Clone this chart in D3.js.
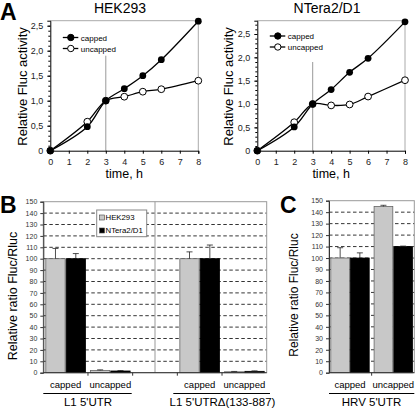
<!DOCTYPE html>
<html><head><meta charset="utf-8">
<script src="https://cdn.jsdelivr.net/npm/d3@7"></script>
<style>body{margin:0;background:#fff}svg{display:block;font-family:"Liberation Sans",Arial,sans-serif}</style>
</head><body>
<svg id="c" width="416" height="409"></svg>
<script>
// ---- Panel A data ----
const timePoints = [0, 2, 3, 4, 5, 6, 8];
const hekCapped   = [0, 0.48, 1.0, 1.24, 1.50, 1.82, 2.59];
const hekUncapped = [0, 0.58, 1.0, 1.08, 1.18, 1.23, 1.40];
const ntCapped    = [0, 0.51, 1.0, 1.31, 1.68, 1.98, 2.76];
const ntUncapped  = [0, 0.61, 1.0, 0.97, 0.99, 1.16, 1.51];
const xTicksA = [0, 1, 2, 3, 4, 5, 6, 7, 8];
const yTicksA = [0, 0.5, 1.0, 1.5, 2.0, 2.5];
// ---- Panel B data ----
const bCategories = ["capped", "uncapped", "", "capped", "uncapped"];
const bGroups = ["L1 5'UTR", "L1 5'UTR\u0394(133-887)"];
const bHek    = [100, 2.0, null, 100, 0.8];
const bHekErr = [9, 0.5, null, 6, 0.3];
const bNt     = [100, 1.5, null, 100, 1.2];
const bNtErr  = [4.5, 0.4, null, 12, 0.4];
// ---- Panel C data ----
const cCategories = ["capped", "uncapped"];
const cGroup = "HRV 5'UTR";
const cHek    = [100, 145];
const cHekErr = [9, 1];
const cNt     = [100, 110];
const cNtErr  = [4.5, 0.4];
const seriesNames = ["HEK293", "NTera2/D1"];
const yTicksBar = d3.range(0, 151, 10);

const svg = d3.select("#c");
const fmtA = v => v === 0 ? "0" : d3.format(".1f")(v).replace(".", ",");

function linePanel(opts) {
  const g = svg.append("g");
  const x = d3.scaleLinear().domain([0, 8]).range([opts.x0, opts.x1]);
  const y = d3.scaleLinear().domain([0, opts.ymax]).range([150.7, 20.7]);
  g.append("path").attr("d", `M${x(0)},${y(opts.ymax)}H${x(8)}V${y(0)}`)
    .attr("fill", "none").attr("stroke", "#aaa").attr("stroke-width", 1);
  g.append("line").attr("x1", x(3)).attr("x2", x(3)).attr("y1", y(0)).attr("y2", y(1.9))
    .attr("stroke", "#999").attr("stroke-width", 1);
  const ax = g.append("g").attr("transform", `translate(0,${y(0)})`)
    .call(d3.axisBottom(x).tickValues(xTicksA).tickSize(3).tickPadding(5).tickFormat(d3.format("d")));
  const ay = g.append("g").attr("transform", `translate(${x(0)},0)`)
    .call(d3.axisLeft(y).tickValues(yTicksA).tickSize(3).tickPadding(4).tickFormat(fmtA));
  g.append("g").attr("transform", `translate(${x(0)},0)`)
    .call(d3.axisLeft(y).tickValues(d3.range(0, opts.ymax, 0.1)).tickSize(2).tickFormat(""))
    .call(s => s.select(".domain").remove());
  [ax, ay].forEach(a => {
    a.selectAll("text").attr("font-size", 9).attr("fill", "#222").attr("font-family", '"Liberation Sans",Arial,sans-serif');
    a.selectAll("line").attr("stroke", "#000");
    a.select(".domain").attr("stroke", "#000");
  });
  const ln = d3.line().x((d, i) => x(timePoints[i])).y(d => y(d)).curve(d3.curveCatmullRom.alpha(0.5));
  [opts.unc, opts.cap].forEach(arr => {
    g.append("path").attr("d", ln(arr)).attr("fill", "none").attr("stroke", "#000").attr("stroke-width", 1.3);
  });
  g.selectAll(".mu").data(opts.unc).join("circle").attr("cx", (d, i) => x(timePoints[i])).attr("cy", d => y(d))
    .attr("r", 3.4).attr("fill", "#fff").attr("stroke", "#000").attr("stroke-width", 1);
  g.selectAll(".mc").data(opts.cap).join("circle").attr("cx", (d, i) => x(timePoints[i])).attr("cy", d => y(d))
    .attr("r", 3.4).attr("fill", "#000");
  const lx = opts.x0 + 12.5;
  [["capped", "#000", opts.legY], ["uncapped", "#fff", opts.legY + 11]].forEach(([t, f, ly]) => {
    g.append("line").attr("x1", lx).attr("x2", lx + 15.5).attr("y1", ly).attr("y2", ly).attr("stroke", "#000").attr("stroke-width", 1.3);
    g.append("circle").attr("cx", lx + 8).attr("cy", ly).attr("r", 3.2).attr("fill", f).attr("stroke", "#000");
    g.append("text").attr("x", lx + 18).attr("y", ly + 3).attr("font-size", 8).text(t);
  });
  g.append("text").attr("x", opts.titleX).attr("y", 12.5).attr("text-anchor", "middle").attr("font-size", 14).text(opts.title);
  g.append("text").attr("x", (x(0) + x(8)) / 2).attr("y", 177.5).attr("text-anchor", "middle").attr("font-size", 12.5).text("time, h");
  g.append("text").attr("transform", `translate(${opts.ytX},86.5) rotate(-90)`).attr("text-anchor", "middle")
    .attr("font-size", 13).text("Relative Fluc activity");
}

linePanel({x0: 50.3, x1: 198.3, ymax: 2.6, unc: hekUncapped, cap: hekCapped, legY: 37.5, title: "HEK293", titleX: 120, ytX: 26.5});
linePanel({x0: 257.3, x1: 405, ymax: 2.785, unc: ntUncapped, cap: ntCapped, legY: 36, title: "NTera2/D1", titleX: 327, ytX: 233});

svg.append("text").attr("x", 0).attr("y", 20).attr("font-size", 23).attr("font-weight", "bold").text("A");
svg.append("text").attr("x", 0).attr("y", 213).attr("font-size", 23).attr("font-weight", "bold").text("B");
svg.append("text").attr("x", 280).attr("y", 213).attr("font-size", 23).attr("font-weight", "bold").text("C");

function barPanel(o) {
  const g = svg.append("g");
  const y = d3.scaleLinear().domain([0, 150]).range([372.7, o.yTop]);
  const x = d3.scaleBand().domain(d3.range(o.cats.length)).range([o.x0, o.x1]).paddingInner(o.pi).paddingOuter(o.po);
  const xs = d3.scaleBand().domain([0, 1]).range([0, x.bandwidth()]);
  g.selectAll(".grid").data(yTicksBar.filter(v => v > 0 && v < 150)).join("line")
    .attr("x1", o.x0).attr("x2", o.x1).attr("y1", d => y(d)).attr("y2", d => y(d))
    .attr("stroke", "#000").attr("stroke-width", 0.8).attr("stroke-dasharray", "3.5,2.5");
  g.append("rect").attr("x", o.x0).attr("y", y(150)).attr("width", o.x1 - o.x0).attr("height", y(0) - y(150))
    .attr("fill", "none").attr("stroke", "#999").attr("stroke-width", 1);
  if (o.divider) {
    const dx = x(2) + x.bandwidth() / 2;
    g.append("line").attr("x1", dx).attr("x2", dx).attr("y1", y(150)).attr("y2", y(0)).attr("stroke", "#999");
  }
  const series = [[o.hek, o.hekErr, "#c8c8c8"], [o.nt, o.ntErr, "#000"]];
  series.forEach(([vals, errs, col], si) => {
    vals.forEach((v, i) => {
      if (v == null) return;
      const bx = x(i) + xs(si), bw = xs.bandwidth();
      g.append("rect").attr("x", bx + 0.5).attr("y", y(v)).attr("width", bw - 1).attr("height", y(0) - y(v))
        .attr("fill", col).attr("stroke", si === 0 ? "#666" : "#000").attr("stroke-width", 0.8);
      const cx = bx + bw / 2, ye = y(v + errs[i]);
      g.append("line").attr("x1", cx).attr("x2", cx).attr("y1", y(v)).attr("y2", ye).attr("stroke", "#222").attr("stroke-width", 0.8);
      g.append("line").attr("x1", cx - 3).attr("x2", cx + 3).attr("y1", ye).attr("y2", ye).attr("stroke", "#222").attr("stroke-width", 0.8);
    });
  });
  const ay = g.append("g").attr("transform", `translate(${o.x0},0)`)
    .call(d3.axisLeft(y).tickValues(yTicksBar).tickSize(3).tickPadding(3));
  ay.selectAll("text").attr("font-size", 7).attr("fill", "#333").attr("font-family", '"Liberation Sans",Arial,sans-serif');
  ay.selectAll("line,.domain").attr("stroke", "#333");
  g.append("line").attr("x1", o.x0).attr("x2", o.x1).attr("y1", y(0)).attr("y2", y(0)).attr("stroke", "#333");
  const bounds = d3.range(1, o.cats.length).map(i => x(i) - x.step() * x.paddingInner() / 2);
  g.selectAll(".bt").data(bounds).join("line").attr("x1", d => d).attr("x2", d => d)
    .attr("y1", y(0)).attr("y2", y(0) + 3).attr("stroke", "#333");
  o.cats.forEach((c, i) => {
    if (!c) return;
    g.append("text").attr("x", x(i) + x.bandwidth() / 2).attr("y", 387.5).attr("text-anchor", "middle").attr("font-size", 9.5).text(c);
  });
  o.groups.forEach(gr => {
    g.append("line").attr("x1", gr.l0).attr("x2", gr.l1).attr("y1", 393.5).attr("y2", 393.5).attr("stroke", "#000").attr("stroke-width", 1);
    g.append("text").attr("x", gr.cx).attr("y", 405.5).attr("text-anchor", "middle").attr("font-size", 11.5).text(gr.text);
  });
  g.append("text").attr("transform", `translate(${o.ytX},${o.ytY}) rotate(-90)`).attr("text-anchor", "middle")
    .attr("font-size", o.ytSize).text("Relative ratio Fluc/Rluc");
  return g;
}

const gB = barPanel({x0: 43.3, x1: 266.7, yTop: 201.7, pi: 0.09, po: 0.045, cats: bCategories,
  hek: bHek, hekErr: bHekErr, nt: bNt, ntErr: bNtErr, divider: true,
  groups: [{l0: 43.3, l1: 131.7, cx: 88, text: bGroups[0]}, {l0: 173.3, l1: 270, cx: 222.5, text: bGroups[1]}],
  ytX: 17, ytY: 296, ytSize: 12.5});
const lg = gB.append("g");
lg.append("rect").attr("x", 96.7).attr("y", 210).attr("width", 50).attr("height", 26.7).attr("fill", "#fff").attr("stroke", "#888");
[[seriesNames[0], "#c8c8c8", 218], [seriesNames[1], "#000", 231]].forEach(([t, f, ly]) => {
  lg.append("rect").attr("x", 99.5).attr("y", ly - 3).attr("width", 5).attr("height", 5).attr("fill", f).attr("stroke", "#444").attr("stroke-width", 0.6);
  lg.append("text").attr("x", 105.5).attr("y", ly + 2).attr("font-size", 7.8).text(t);
});

barPanel({x0: 329, x1: 414.3, yTop: 200.7, pi: 0.09, po: 0.03, cats: cCategories,
  hek: cHek, hekErr: cHekErr, nt: cNt, ntErr: cNtErr, divider: false,
  groups: [{l0: 329, l1: 414.3, cx: 371.5, text: cGroup}],
  ytX: 298, ytY: 295, ytSize: 12});
</script>
</body></html>
